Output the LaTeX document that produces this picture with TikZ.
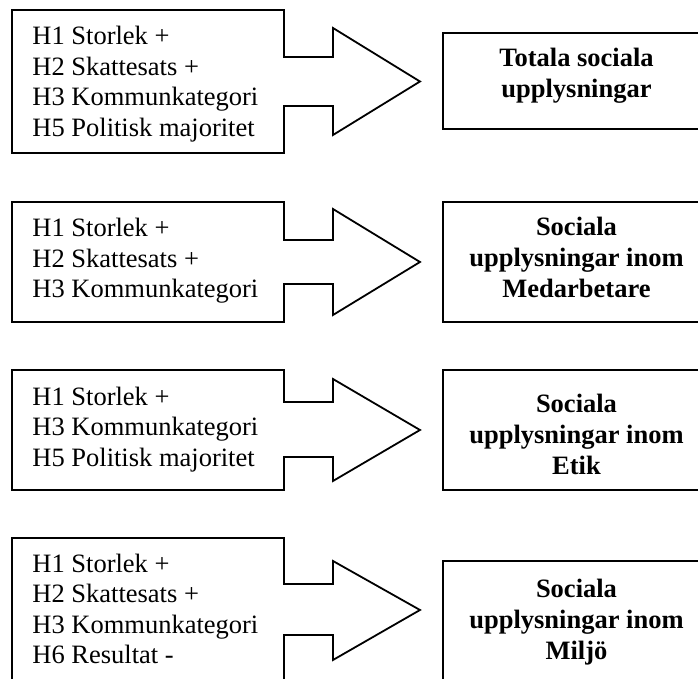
\documentclass[tikz,border=0pt]{standalone}
\usepackage{fontspec}
\setmainfont{Liberation Serif}
\usepackage{xcolor}
\definecolor{RamSvart}{HTML}{000000}

\begin{document}
\begin{tikzpicture}[x=0.5pt,y=-0.5pt,
  ram/.style={draw=RamSvart,line width=0.9pt,line join=miter},
  hyp/.style={anchor=base west,align=left,inner sep=0pt,
    font=\fontsize{13.25}{15.25}\selectfont},
  utfall/.style={anchor=base,align=center,inner sep=0pt,
    font=\fontsize{13.25}{15.5}\selectfont\bfseries}]
  \useasboundingbox (0,0) rectangle (698,679);
  \clip (0,0) rectangle (698,679);
  \draw[ram] (12,10)--(284,10)--(284,57)--(333,57)--(333,28)--(420,81.5)
    --(333,135)--(333,106)--(284,106)--(284,153)--(12,153)--cycle;
  \node[hyp] (hyp1) at (32,136.5)
    {H1 Storlek +\\H2 Skattesats +\\H3 Kommunkategori\\H5 Politisk majoritet};
  \draw[ram] (443,33) rectangle (710,129);
  \node[utfall] (utf1) at (576.5,98) {Totala sociala\\upplysningar};
  \draw[ram] (12,202)--(284,202)--(284,240)--(333,240)--(333,209)--(420,262)
    --(333,315)--(333,284)--(284,284)--(284,322)--(12,322)--cycle;
  \node[hyp] (hyp2) at (32,298)
    {H1 Storlek +\\H2 Skattesats +\\H3 Kommunkategori};
  \draw[ram] (443,202) rectangle (710,322);
  \node[utfall] (utf2) at (576.5,298) {Sociala\\upplysningar inom\\Medarbetare};
  \draw[ram] (12,370)--(284,370)--(284,402)--(333,402)--(333,379)--(420,430)
    --(333,481)--(333,457)--(284,457)--(284,490)--(12,490)--cycle;
  \node[hyp] (hyp3) at (32,466.5)
    {H1 Storlek +\\H3 Kommunkategori\\H5 Politisk majoritet};
  \draw[ram] (443,370) rectangle (710,490);
  \node[utfall] (utf3) at (576.5,475) {Sociala\\upplysningar inom\\Etik};
  \draw[ram] (12,538)--(284,538)--(284,584)--(333,584)--(333,561)--(420,610)
    --(333,660)--(333,635)--(284,635)--(284,700)--(12,700)--cycle;
  \node[hyp] (hyp4) at (32,664)
    {H1 Storlek +\\H2 Skattesats +\\H3 Kommunkategori\\H6 Resultat -};
  \draw[ram] (443,561) rectangle (710,700);
  \node[utfall] (utf4) at (576.5,660) {Sociala\\upplysningar inom\\Miljö};
\end{tikzpicture}
\end{document}
